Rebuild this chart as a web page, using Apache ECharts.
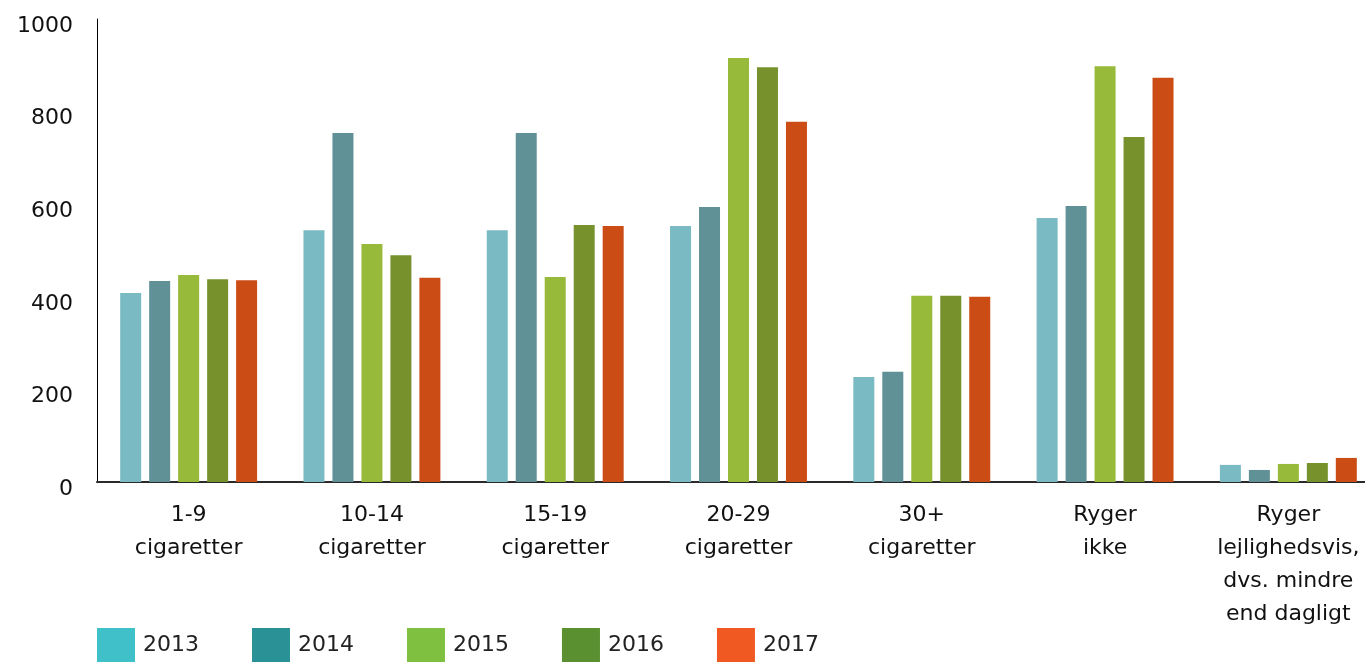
<!DOCTYPE html>
<html>
<head>
<meta charset="utf-8">
<script src="https://cdn.jsdelivr.net/npm/echarts@6/dist/echarts.min.js"></script>
<style>
html,body{margin:0;padding:0;background:#fff;}
#c{width:1365px;height:662px;}
</style>
</head>
<body>
<div id="c"></div>
<script>
const categories = ['1-9\ncigaretter','10-14\ncigaretter','15-19\ncigaretter','20-29\ncigaretter','30+\ncigaretter','Ryger\nikke','Ryger\nlejlighedsvis,\ndvs. mindre\nend dagligt'];
const years = ['2013','2014','2015','2016','2017'];
const v2013 = [408, 544, 544, 553, 227, 570, 37];
const v2014 = [434, 754, 754, 594, 238, 596, 26];
const v2015 = [447, 514, 443, 916, 402, 898, 39];
const v2016 = [438, 490, 555, 896, 402, 745, 41];
const v2017 = [436, 441, 553, 778, 400, 873, 52];
const yTicks = [0, 200, 400, 600, 800, 1000];

const barColors = ['#7ABAC2', '#5F9197', '#98BA3A', '#77922D', '#CB4C15'];
const legendColors = ['#40C0C8', '#2A9296', '#80C040', '#5A9030', '#F05A22'];
const allValues = [v2013, v2014, v2015, v2016, v2017];
const font = '"DejaVu Sans", sans-serif';

const chart = echarts.init(document.getElementById('c'));
chart.setOption({
  animation: false,
  backgroundColor: '#fff',
  grid: { left: 97, top: 19, width: 1283, height: 463, containLabel: false, outerBoundsMode: 'none' },
  legend: {
    left: 97, top: 628, padding: 0,
    itemWidth: 38, itemHeight: 34, itemGap: 53,
    icon: 'rect',
    data: years.map((y, i) => ({ name: y, itemStyle: { color: legendColors[i] } })),
    textStyle: { fontFamily: font, fontSize: 22, color: '#222', padding: [8, 0, 0, 3] }
  },
  xAxis: {
    type: 'category',
    data: categories,
    axisLine: { show: true, lineStyle: { color: '#2a2a2a', width: 2 } },
    axisTick: { show: false },
    axisLabel: { interval: 0, margin: 17, fontFamily: font, fontSize: 22, lineHeight: 33, color: '#111' }
  },
  yAxis: {
    type: 'value', min: yTicks[0], max: yTicks[yTicks.length - 1], interval: 200,
    axisLine: { show: true, lineStyle: { color: '#000', width: 1 } },
    axisTick: { show: false },
    splitLine: { show: false },
    axisLabel: { margin: 24, fontFamily: font, fontSize: 22, color: '#111', verticalAlign: 'top', lineHeight: 14, formatter: v => String(v) }
  },
  series: years.map((y, i) => ({
    name: y, type: 'bar', data: allValues[i],
    barWidth: 21, barGap: '38%',
    itemStyle: { color: barColors[i] }
  }))
});
</script>
</body>
</html>
